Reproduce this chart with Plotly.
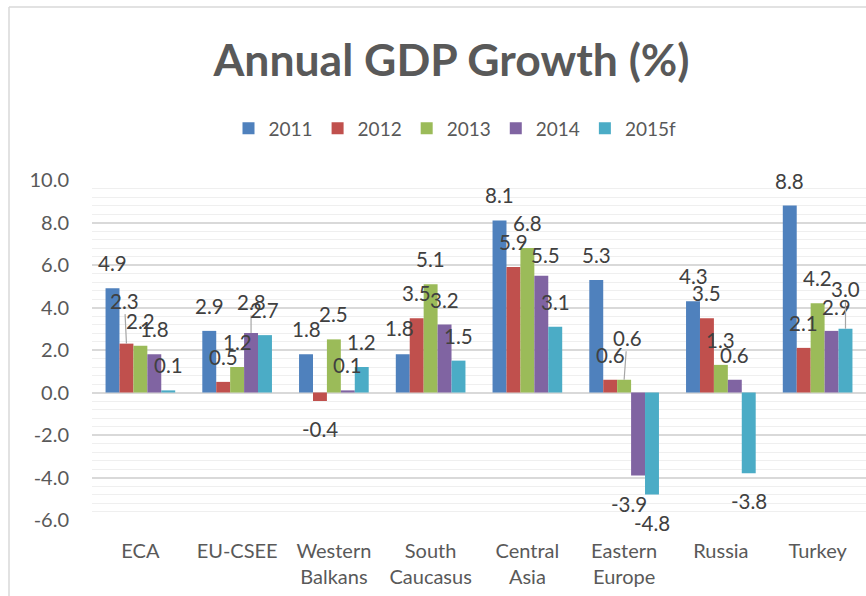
import plotly.graph_objects as go

# ---------------- data ----------------
categories = ["ECA", "EU-CSEE", "Western<br>Balkans", "South<br>Caucasus",
              "Central<br>Asia", "Eastern<br>Europe", "Russia", "Turkey"]
series_names = ["2011", "2012", "2013", "2014", "2015f"]
v2011 = [4.9, 2.9, 1.8, 1.8, 8.1, 5.3, 4.3, 8.8]
v2012 = [2.3, 0.5, -0.4, 3.5, 5.9, 0.6, 3.5, 2.1]
v2013 = [2.2, 1.2, 2.5, 5.1, 6.8, 0.6, 1.3, 4.2]
v2014 = [1.8, 2.8, 0.1, 3.2, 5.5, -3.9, 0.6, 2.9]
v2015f = [0.1, 2.7, 1.2, 1.5, 3.1, -4.8, -3.8, 3.0]
series_values = [v2011, v2012, v2013, v2014, v2015f]
y_ticks = [-6, -4, -2, 0, 2, 4, 6, 8, 10]
y_tick_labels = [f"{t:.1f}" for t in y_ticks]

# ---------------- style ----------------
colors = ["#4F81BD", "#C0504D", "#9BBB59", "#8064A2", "#4BACC6"]
FONT = "Lato, Open Sans, sans-serif"
W, H = 866, 596
ML, MR, MT, MB = 92, 0, 180, 76
BARGAP = 0.28
PLOT_W = W - ML - MR
PLOT_H = H - MT - MB
cat_w = PLOT_W / len(categories)
bar_w = cat_w * (1 - BARGAP) / len(series_names)

# label placement tweaks (pixel offsets: dx, distance from bar end, leader line)
POS_DY, NEG_DY = 25, -28
label_tweaks = {
    (0, 1): (-2, 43, True),
    (1, 3): (0, 31, True),
    (3, 0): (-3, 26, False),
    (4, 3): (4, 21, False),
    (5, 2): (3, 42, True),
    (5, 3): (-9, -29, False),
    (7, 3): (5, 24, False),
    (7, 4): (0, 40, True),
}
LABEL_FONT = dict(family=FONT, size=20.5, color="#404040")

fig = go.Figure()
for name, vals, col in zip(series_names, series_values, colors):
    fig.add_trace(go.Bar(name=name, x=categories, y=vals,
                         marker=dict(color=col, line=dict(width=0))))

annotations = []
n = len(series_names)
for si, vals in enumerate(series_values):
    base_dx = (si - (n - 1) / 2) * bar_w
    for ci, v in enumerate(vals):
        dx, dy, leader = label_tweaks.get((ci, si), (0, POS_DY if v >= 0 else NEG_DY, False))
        txt = f"{v:.1f}"
        if leader:
            annotations.append(dict(
                x=categories[ci], y=v, xref="x", yref="y", text=txt,
                showarrow=True, arrowhead=0, arrowwidth=1.2, arrowcolor="#a6a6a6",
                ax=dx, ay=-dy, xshift=base_dx, standoff=0, font=LABEL_FONT))
        else:
            annotations.append(dict(
                x=categories[ci], y=v, xref="x", yref="y", text=txt,
                showarrow=False, xshift=base_dx + dx, yshift=dy,
                xanchor="center", yanchor="middle", font=LABEL_FONT))

def px_to_paper_x(px):
    return (px - ML) / PLOT_W

def px_to_paper_y(py):
    return (H - MB - py) / PLOT_H

# chart-area border (top and left edges visible)
shapes = [
    dict(type="line", xref="paper", yref="paper",
         x0=px_to_paper_x(9), x1=px_to_paper_x(W + 10),
         y0=px_to_paper_y(7), y1=px_to_paper_y(7),
         line=dict(color="#d9d9d9", width=1.5)),
    dict(type="line", xref="paper", yref="paper",
         x0=px_to_paper_x(9), x1=px_to_paper_x(9),
         y0=px_to_paper_y(7), y1=px_to_paper_y(H + 10),
         line=dict(color="#d9d9d9", width=1.5)),
]

fig.update_layout(
    width=W, height=H,
    margin=dict(l=ML, r=MR, t=MT, b=MB, pad=0),
    paper_bgcolor="white", plot_bgcolor="white",
    barmode="group", bargap=BARGAP, bargroupgap=0,
    font=dict(family=FONT, color="#595959", size=20),
    title=dict(text="Annual GDP Growth (%)", x=451.5 / W, xanchor="center",
               y=1 - 60 / H, yanchor="middle", yref="container",
               font=dict(family=FONT, size=44.5, color="#595959", weight="bold")),
    legend=dict(orientation="h", x=px_to_paper_x(455), xanchor="center",
                y=px_to_paper_y(128.5), yanchor="middle",
                font=dict(family=FONT, size=19, color="#595959"),
                itemwidth=30, bgcolor="rgba(0,0,0,0)"),
    annotations=annotations,
    shapes=shapes,
    showlegend=True,
)
fig.update_yaxes(range=[-6, 10], tickvals=y_ticks, ticktext=y_tick_labels,
                 showgrid=True, gridcolor="#d9d9d9", gridwidth=1.5,
                 zeroline=True, zerolinecolor="#d9d9d9", zerolinewidth=1.5,
                 minor=dict(dtick=0.4, tick0=0, showgrid=True,
                            gridcolor="#efefef", gridwidth=1.2),
                 showline=False, ticks="", ticklabelstandoff=22,
                 tickfont=dict(family=FONT, size=20, color="#595959"))
fig.update_xaxes(showgrid=False, showline=False, ticks="",
                 ticklabelstandoff=17,
                 tickfont=dict(family=FONT, size=20, color="#595959"))

fig.write_html("out.html")
